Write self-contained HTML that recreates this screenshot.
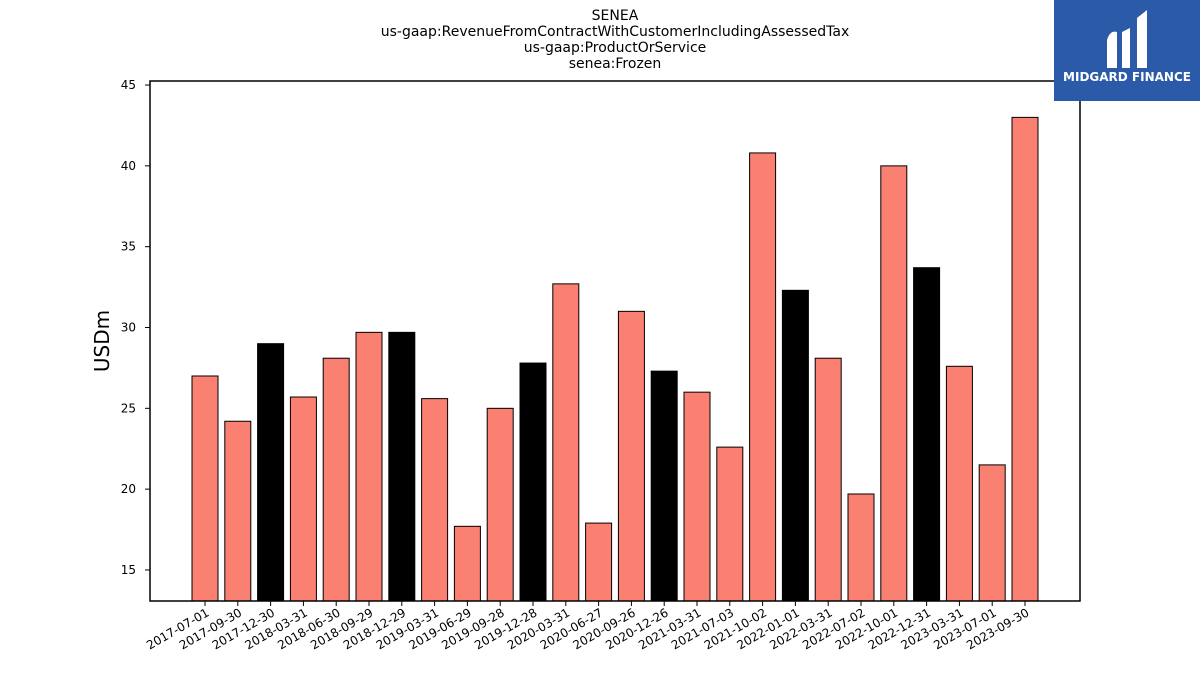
<!DOCTYPE html>
<html><head><meta charset="utf-8"><style>
body{margin:0;background:#fff;width:1200px;height:675px;overflow:hidden;font-family:"DejaVu Sans","Liberation Sans",sans-serif}
</style></head><body>
<svg width="1200" height="675" xmlns="http://www.w3.org/2000/svg" id="chart">
<g font-size="14" text-anchor="middle" fill="#000" font-family="DejaVu Sans, sans-serif">
<text x="615" y="20">SENEA</text>
<text x="615" y="36">us-gaap:RevenueFromContractWithCustomerIncludingAssessedTax</text>
<text x="615" y="52">us-gaap:ProductOrService</text>
<text x="615" y="68">senea:Frozen</text>
</g>
<g id="bars"></g>
<g id="yticks"></g>
<g id="xticks"></g>
<rect x="150" y="81" width="930" height="520" fill="none" stroke="#000" stroke-width="1.5"/>
<text x="109" y="341" font-size="20" text-anchor="middle" transform="rotate(-90 109 341)">USDm</text>
<g>
<rect x="1054" y="0" width="146" height="101" fill="#2b5aa8"/>
<path d="M1107 68 L1107 40 Q1110 30 1117 32 L1117 68 Z M1122 68 L1122 32 L1130 28 L1130 68 Z M1137 68 L1137 18 L1147 10 L1147 68 Z" fill="#fff"/>
<text x="1127" y="81" font-size="12" font-weight="bold" fill="#fff" text-anchor="middle">MIDGARD FINANCE</text>
</g>
</svg>
<script>
const categories=["2017-07-01","2017-09-30","2017-12-30","2018-03-31","2018-06-30","2018-09-29","2018-12-29","2019-03-31","2019-06-29","2019-09-28","2019-12-28","2020-03-31","2020-06-27","2020-09-26","2020-12-26","2021-03-31","2021-07-03","2021-10-02","2022-01-01","2022-03-31","2022-07-02","2022-10-01","2022-12-31","2023-03-31","2023-07-01","2023-09-30"];
const values=[27.0,24.2,29.0,25.7,28.1,29.7,29.7,25.6,17.7,25.0,27.8,32.7,17.9,31.0,27.3,26.0,22.6,40.8,32.3,28.1,19.7,40.0,33.7,27.6,21.5,43.0];
const yTicks=[15,20,25,30,35,40,45];
const NS="http://www.w3.org/2000/svg";
const yMin=13.08,yMax=45.25,plotTop=81,plotBot=601,plotLeft=150;
const yScale=v=>plotBot-(v-yMin)/(yMax-yMin)*(plotBot-plotTop);
const xScale=i=>205+i*((1025-205)/(categories.length-1));
const bw=26;
const bars=document.getElementById('bars'),yt=document.getElementById('yticks'),xt=document.getElementById('xticks');
values.forEach((v,i)=>{
const r=document.createElementNS(NS,'rect');


r.setAttribute('x',xScale(i)-bw/2);r.setAttribute('y',yScale(v));r.setAttribute('width',bw);r.setAttribute('height',plotBot-yScale(v));
r.setAttribute('fill',i%4===2?'#000':'#fa8072');r.setAttribute('stroke','#000');r.setAttribute('stroke-width','1');
bars.appendChild(r);
const t=document.createElementNS(NS,'line');


t.setAttribute('x1',xScale(i));t.setAttribute('x2',xScale(i));t.setAttribute('y1',plotBot);t.setAttribute('y2',plotBot+5);t.setAttribute('stroke','#000');
xt.appendChild(t);
const l=document.createElementNS(NS,'text');


l.setAttribute('font-size','12');l.setAttribute('text-anchor','end');
l.setAttribute('transform','translate('+(xScale(i)+5)+','+(plotBot+14)+') rotate(-30)');
l.textContent=categories[i];xt.appendChild(l);
});
yTicks.forEach(v=>{
const t=document.createElementNS(NS,'line');


t.setAttribute('x1',plotLeft-5);t.setAttribute('x2',plotLeft);t.setAttribute('y1',yScale(v));t.setAttribute('y2',yScale(v));t.setAttribute('stroke','#000');
yt.appendChild(t);
const l=document.createElementNS(NS,'text');


l.setAttribute('font-size','12');l.setAttribute('text-anchor','end');
l.setAttribute('x',plotLeft-14);l.setAttribute('y',yScale(v)+4);l.textContent=v;yt.appendChild(l);
});
</script>
</body></html>
